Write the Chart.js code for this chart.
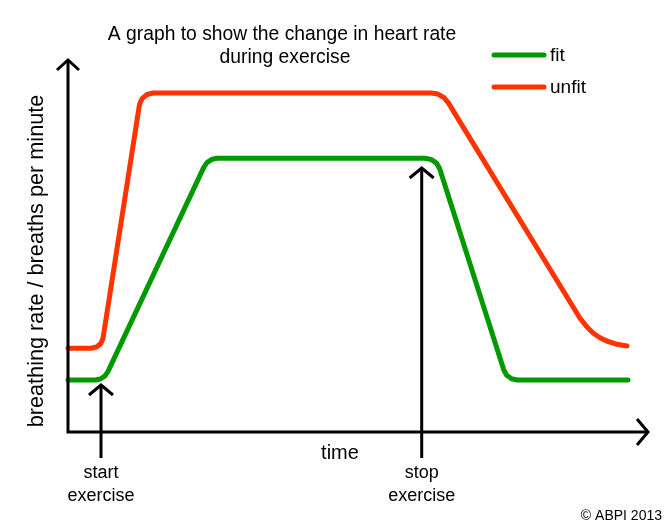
<!DOCTYPE html>
<html><head><meta charset="utf-8">
<script src="https://cdn.jsdelivr.net/npm/chart.js@4/dist/chart.umd.min.js"></script>
<style>html,body{margin:0;padding:0;background:#fff}canvas{display:block}</style>
</head><body>
<canvas id="c" width="667" height="529"></canvas>
<script>
const titleLines = ['A graph to show the change in heart rate', 'during exercise'];
const xAxisLabel = 'time';
const yAxisLabel = 'breathing rate / breaths per minute';
const seriesNames = ['fit', 'unfit'];
const seriesColors = ['#009900', '#ff3300'];

const fitTime = [0, 2.71, 3.23, 3.67, 3.98, 13.6, 13.92, 14.4, 14.95, 35.74, 36.35, 36.86, 37.17, 43.59, 43.87, 44.35, 44.92, 56];
const fitRate = [13, 13, 13.25, 13.95, 15.03, 66.28, 67.4, 68.18, 68.43, 68.43, 68.1, 67.18, 65.8, 15.43, 14.18, 13.3, 13, 13];

const unfitTime = [0, 2.32, 2.86, 3.28, 3.5, 7.15, 7.41, 7.9, 8.53, 36.32, 36.99, 37.58, 38.02, 51.2, 51.87, 52.53, 53.2, 53.87, 54.9, 55.9];
const unfitRate = [20.93, 20.93, 21.25, 22.13, 23.38, 81.88, 83.35, 84.38, 84.75, 84.75, 84.48, 83.63, 82.35, 28.43, 26.33, 24.68, 23.55, 22.75, 21.93, 21.5];

const eventTimes = [3.3, 35.37];
const eventTipRates = [11.75, 66];
const eventLabels = [['start', 'exercise'], ['stop', 'exercise']];
const credit = '\u00A9 ABPI 2013';

const FONT = '"Liberation Sans", Arial, Helvetica, sans-serif';

function toPoints(xs, ys) { return xs.map((v, i) => ({ x: v, y: ys[i] })); }

function arrowHead(ctx, x, y, dx, dy, len, half) {
  const bx = x - dx * len, by = y - dy * len;
  const px = -dy, py = dx;
  ctx.beginPath();
  ctx.moveTo(bx + px * half, by + py * half);
  ctx.lineTo(x, y);
  ctx.lineTo(bx - px * half, by - py * half);
  ctx.stroke();
}

const decor = {
  id: 'decor',
  afterDraw(chart) {
    const { ctx, chartArea: a, scales: { x, y } } = chart;
    ctx.save();
    ctx.strokeStyle = '#000';
    ctx.fillStyle = '#000';
    ctx.lineWidth = 3;
    ctx.lineJoin = 'miter';
    ctx.lineCap = 'butt';
    // axes
    ctx.beginPath();
    ctx.moveTo(a.left, a.top + 1);
    ctx.lineTo(a.left, a.bottom);
    ctx.lineTo(a.right - 1, a.bottom);
    ctx.stroke();
    arrowHead(ctx, a.left, a.top, 0, -1, 10, 11);
    arrowHead(ctx, a.right, a.bottom, 1, 0, 11, 13);

    // event arrows + labels
    ctx.font = '18px ' + FONT;
    ctx.textAlign = 'center';
    ctx.textBaseline = 'middle';
    eventTimes.forEach((t, i) => {
      const px = x.getPixelForValue(t);
      const tip = y.getPixelForValue(eventTipRates[i]);
      ctx.beginPath();
      ctx.moveTo(px, a.bottom + 26);
      ctx.lineTo(px, tip + 1);
      ctx.stroke();
      arrowHead(ctx, px, tip, 0, -1, 10, 12);
      ctx.fillText(eventLabels[i][0], px, a.bottom + 41);
      ctx.fillText(eventLabels[i][1], px, a.bottom + 64);
    });

    // x label
    ctx.font = '20px ' + FONT;
    ctx.fillText(xAxisLabel, a.left + 272, a.bottom + 21);

    // title
    ctx.font = '19.3px ' + FONT;
    ctx.fillText(titleLines[0], 282, 35);
    ctx.fillText(titleLines[1], 285, 58);

    // y label
    ctx.save();
    ctx.translate(37, 261);
    ctx.rotate(-Math.PI / 2);
    ctx.font = '21.7px ' + FONT;
    ctx.fillText(yAxisLabel, 0, 0);
    ctx.restore();

    // legend
    ctx.lineWidth = 5;
    ctx.lineCap = 'round';
    ctx.textAlign = 'left';
    ctx.font = '19px ' + FONT;
    seriesNames.forEach((name, i) => {
      const ly = 55 + i * 32;
      ctx.strokeStyle = seriesColors[i];
      ctx.beginPath();
      ctx.moveTo(494, ly);
      ctx.lineTo(544, ly);
      ctx.stroke();
      ctx.fillStyle = '#000';
      ctx.fillText(name, 550, ly + 1);
    });

    // credit
    ctx.font = '14px ' + FONT;
    ctx.textAlign = 'right';
    ctx.fillText(credit, 662, 516);
    ctx.restore();
  }
};

new Chart(document.getElementById('c'), {
  type: 'line',
  data: {
    datasets: [
      { label: seriesNames[0], data: toPoints(fitTime, fitRate), borderColor: seriesColors[0] },
      { label: seriesNames[1], data: toPoints(unfitTime, unfitRate), borderColor: seriesColors[1] }
    ]
  },
  options: {
    responsive: false,
    animation: false,
    devicePixelRatio: 1,
    layout: { padding: { left: 68, right: 19, top: 60, bottom: 97 } },
    elements: {
      line: { borderWidth: 5, tension: 0, borderCapStyle: 'round', borderJoinStyle: 'round', fill: false },
      point: { radius: 0, hoverRadius: 0 }
    },
    datasets: { line: { clip: false } },
    scales: {
      x: { type: 'linear', min: 0, max: 58, display: false },
      y: { type: 'linear', min: 0, max: 93, display: false }
    },
    plugins: { legend: { display: false }, title: { display: false }, tooltip: { enabled: false } }
  },
  plugins: [decor]
});
</script>
</body></html>
